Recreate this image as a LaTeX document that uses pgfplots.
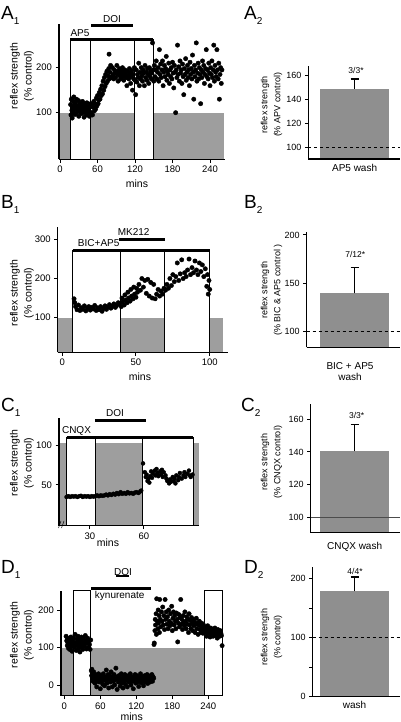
\documentclass[border=0pt]{standalone}
\usepackage{fontspec}
\setmainfont{Liberation Sans}
\usepackage{pgfplots}
\pgfplotsset{compat=1.18}
\definecolor{rg}{gray}{0.62}
\definecolor{bg}{gray}{0.56}
\pgfplotsset{
  lp/.style={scale only axis, anchor=south west, axis on top, clip=false,
    axis x line*=bottom, axis y line*=left, axis line style={line width=1.1pt,-},
    tick align=outside, major tick length=3.5pt, tick style={line width=1pt,black},
    /pgf/number format/assume math mode=true, scaled ticks=false,
    tick label style={font=\fontsize{9.5}{10}\selectfont}},
  rp/.style={scale only axis, anchor=south west, axis on top,
    axis x line*=bottom, axis y line*=left, axis line style={line width=1.1pt,-},
    tick align=outside, major tick length=3.5pt, minor tick length=3.5pt,
    tick style={line width=1pt,black}, xtick=\empty, xmin=0,
    /pgf/number format/assume math mode=true, scaled ticks=false,
    tick label style={font=\fontsize{9}{10}\selectfont}},
  dots/.style={only marks, mark=*, mark size=2.2pt, black},
}
\tikzset{
  bx/.style={fill=white, draw=black, line width=0.8pt},
  drug/.style={line width=3pt, black},
}
\newcommand{\fs}[1]{\fontsize{#1}{#1}\selectfont}
\begin{document}
\begin{tikzpicture}[x=1pt,y=1pt]
\useasboundingbox (0,0) rectangle (400,722);

% ---------------- A1
\begin{axis}[lp, at={(59pt,562.7pt)}, width=166pt, height=135.3pt,
  xmin=-1.6, xmax=264, ymin=-3.5, ymax=297, xtick={0,60,120,180,240}, ytick={100,200}]
\fill[rg] (axis cs:-1.6,-3.5) rectangle (axis cs:262.4,100);
\filldraw[bx] (axis cs:16,-3.5) rectangle (axis cs:48.5,263);
\filldraw[bx] (axis cs:119,-3.5) rectangle (axis cs:149,263);
\addplot[dots] coordinates {(17,118)(17.5,95)(18,130)(19,105)(19.5,88)(20,112)(21,125)(21.5,100)(22,135)(23,108)(23.5,118)(24,96)(25,122)(26,110)(26.5,130)(27,100)(28,115)(29,105)(29.5,127)(30,92)(31,112)(32,120)(32.5,102)(33,110)(34,98)(35,118)(35.5,106)(36,125)(37,100)(38,113)(38.5,90)(39,120)(40,108)(41,115)(42,100)(42.5,95)(43,122)(44,110)(45,105)(46,118)(47,92)(47.5,112)(48,100)(49,120)
(50,100)(51,118)(52,95)(53,112)(54,125)(55,104)(56,120)(57,108)(58,132)(59,115)(60,138)(61,120)(62,128)(63,145)(64,130)(65,152)(66,138)(67,160)(68,142)(69,170)(70,150)(71,178)(72,158)(73,185)(74,165)(75,192)(76,170)(77,182)(78,198)(79,175)(80,190)(78.5,230)(81,205)(82,178)
(83,180)(84,200)(85,185)(86,175)(87,195)(88,188)(89,178)(90,192)(91,205)(92,185)(93,170)(94,190)(95,198)(96,182)(97,175)(98,193)(99,186)(100,200)(101,180)(102,172)(103,190)(104,195)(105,185)(106,178)(107,160)(108,192)(109,183)(110,175)(111,198)(112,188)(113,165)(114,180)(115,193)(116,150)(117,185)(118,175)(119,200)(120,172)(121,140)
(122,195)(123,168)(124,185)(125,178)(126,210)(127,160)(128,190)(129,175)(130,200)(131,182)(132,170)(133,195)(134,188)(135,160)(136,205)(137,178)(138,190)(139,172)(140,198)(141,185)(142,165)(143,200)(144,180)(145,192)(146,175)(147,188)(148,255)(149,195)(150,170)
(151,205)(152,180)(153,195)(154,215)(155,175)(156,190)(157,200)(158,170)(159,240)(160,185)(161,208)(162,178)(163,195)(164,215)(165,160)(166,190)(167,205)(168,180)(169,198)(170,225)(171,172)(172,192)(173,185)(174,210)(175,165)(176,195)(177,180)(178,200)(179,175)(180,212)(181,188)(182,155)(183,205)(184,190)(185,100)(186,195)(187,178)(188,250)(189,185)(190,202)(191,170)(192,215)(193,188)(194,195)(195,165)(196,208)(197,180)(198,140)(199,198)(200,185)
(201,220)(202,172)(203,190)(204,205)(205,178)(206,195)(207,160)(208,212)(209,185)(210,198)(211,175)(212,228)(213,190)(214,130)(215,205)(216,180)(217,195)(218,255)(219,170)(220,188)(221,210)(222,175)(223,200)(224,185)(225,120)(226,195)(227,178)(228,215)(229,190)(230,205)(231,165)(232,185)(233,198)(234,240)(235,180)(236,195)(237,175)(238,210)(239,188)(240,160)(241,200)(242,185)(243,215)(244,178)(245,195)(246,250)(247,170)(248,205)(249,190)(250,180)(251,240)(252,195)(253,175)(254,210)(255,130)(256,185)(257,200)(258,165)(259,195)};
\draw[drug] (axis cs:16,263) -- (axis cs:149,263);
\draw[line width=1pt] (axis cs:149,263) -- (axis cs:149,252);
\draw[drug] (axis cs:49.6,294) -- (axis cs:116.3,294);
\end{axis}

% ---------------- A2
\begin{axis}[rp, at={(308.3pt,563pt)}, width=91.7pt, height=93pt,
  xmax=91.7, ymin=90.2, ymax=168, ytick={100,120,140,160}]
\addplot[ybar, bar width=69.3pt, fill=bg, draw=none,
  error bars/.cd, y dir=plus, y explicit,
  error bar style={line width=1.6pt,black},
  error mark options={rotate=90, mark size=4pt, line width=1.6pt, black}]
  coordinates {(46.35,148.8) +- (0,8.4)};
\draw[dashed, line width=0.6pt] (axis cs:0,100) -- (axis cs:91.7,100);
\end{axis}

% ---------------- B1
\begin{axis}[lp, at={(57.7pt,369.7pt)}, width=170pt, height=125.6pt,
  xmin=-3.1, xmax=112.2, ymin=10.8, ymax=333, xtick={0,50,100}, ytick={100,200,300}]
\fill[rg] (axis cs:-3.1,10.8) rectangle (axis cs:109,100);
\filldraw[bx] (axis cs:7,10.8) rectangle (axis cs:39.3,273);
\filldraw[bx] (axis cs:69.4,10.8) rectangle (axis cs:100.1,273);
\addplot[dots] coordinates {(8,148)(8.5,138)(9,128)(10,120)(11,132)(12,118)(13,125)(14,121)(15,130)(16,117)(17,124)(18,128)(19,119)(20,126)(21,122)(22,131)(23,118)(24,125)(25,120)(26,128)(27,116)(28,123)(29,130)(30,121)(31,127)(32,133)(33,124)(34,129)(35,135)(36,126)(37,131)(38,138)
(39,135)(40,128)(40.5,150)(41,140)(42,132)(42.5,158)(43,145)(44,138)(44.5,165)(45,150)(46,142)(46.5,172)(47,155)(48,148)(48.5,178)(49,160)(50,152)(50.5,175)(51,165)(52,185)(53,170)(54,200)(55,178)(56,195)(57,162)(58,198)(59,155)(60,190)(61,150)(62,185)(63,148)(64,160)(65,172)(66,155)(67,168)(68,160)(69,175)
(70,170)(71,185)(72,175)(73,200)(74,182)(75,210)(76,192)(77,205)(78,240)(79,195)(80,212)(81,248)(82,200)(83,215)(84,205)(85,222)(86,250)(87,210)(88,228)(89,215)(90,245)(91,222)(92,210)(93,240)(94,218)(95,235)(96,205)(97,225)(98,180)(98.5,210)(99,160)(99.5,195)(100,172)};
\draw[drug] (axis cs:7,273) -- (axis cs:100.1,273);
\draw[drug] (axis cs:38.8,300) -- (axis cs:69.8,300);
\end{axis}

% ---------------- B2
\begin{axis}[rp, at={(306.7pt,374.7pt)}, width=93.3pt, height=115.6pt,
  xmax=93.3, ymin=83.9, ymax=203.4, ytick={100,150,200}]
\addplot[ybar, bar width=69.3pt, fill=bg, draw=none,
  error bars/.cd, y dir=plus, y explicit,
  error bar style={line width=1.3pt,black},
  error mark options={rotate=90, mark size=4pt, line width=1.3pt, black}]
  coordinates {(47.95,139.7) +- (0,26.8)};
\draw[dashed, line width=0.6pt] (axis cs:0,100) -- (axis cs:93.3,100);
\end{axis}

% ---------------- C1
\begin{axis}[lp, at={(59pt,196.3pt)}, width=140pt, height=107.4pt,
  xmin=12.8, xmax=90.6, ymin=-0.9, ymax=133.4, xtick={30,60}, ytick={50,100},
  y axis line style={line width=1.8pt}]
\fill[rg] (axis cs:12.8,-0.9) rectangle (axis cs:90.5,102);
\filldraw[bx] (axis cs:17,-0.9) rectangle (axis cs:33.2,110);
\filldraw[bx] (axis cs:59.3,-0.9) rectangle (axis cs:87.4,110);
\addplot[dots, mark size=2pt] coordinates {(17,35)(18,36)(19,35)(20,36)(21,35.5)(22,36)(23,35)(24,36)(25,36.5)(26,35)(27,36)(28,35.5)(29,36)(30,35)(31,36)(32,35.5)(33,36)(34,37)(35,36)(36,37)(37,36.5)(38,37)(39,38)(40,37)(41,38.5)(42,37.5)(43,39)(44,38)(45,40)(46,38.5)(47,41)(48,39)(49,40)(50,39)(51,41)(52,39.5)(53,40)(54,39)(55,40.5)(56,41)(57,40)(58,42)(58.5,43)
(59.5,77)(60.5,66)(61,60)(61.5,63)(62,55)(62.5,58)(63,53)(63.5,61)(64,67)(64.5,59)(65,64)(66,68)(66.5,62)(67,70)(67.5,65)(68,61)(69,67)(69.5,63)(70,69)(70.5,60)(71,66)(72,62)(72.5,58)(73,55)(74,52)(74.5,57)(75,54)(76,60)(76.5,55)(77,58)(77.5,52)(78,62)(79,56)(79.5,60)(80,65)(81,58)(82,62)(82.5,66)(83,60)(84,64)(85,68)(85.5,62)(86,60)(87,63)};
\draw[drug] (axis cs:17,110) -- (axis cs:87.4,110);
\draw[drug] (axis cs:32.8,131) -- (axis cs:61,131);
\end{axis}

% ---------------- C2
\begin{axis}[rp, at={(310.7pt,189.3pt)}, width=89.3pt, height=128.4pt,
  xmax=89.3, ymin=90.9, ymax=169, ytick={100,120,140,160}]
\addplot[ybar, bar width=69.3pt, fill=bg, draw=none,
  error bars/.cd, y dir=plus, y explicit,
  error bar style={line width=1.6pt,black},
  error mark options={rotate=90, mark size=4pt, line width=1.6pt, black}]
  coordinates {(43.95,140.5) +- (0,16.2)};
\draw[line width=0.6pt, black!70] (axis cs:0,100) -- (axis cs:89.3,100);
\end{axis}

% ---------------- D1
\begin{axis}[lp, at={(61pt,26.3pt)}, width=161.7pt, height=105pt,
  xmin=-5.5, xmax=264, ymin=-28.5, ymax=251.5, xtick={0,60,120,180,240}, ytick={0,100,200}]
\fill[rg] (axis cs:-5.5,-28.5) rectangle (axis cs:233.4,99);
\filldraw[bx] (axis cs:15,-28.5) rectangle (axis cs:44,251.5);
\filldraw[bx] (axis cs:233.4,-28.5) rectangle (axis cs:264,251.5);
\addplot[dots] coordinates {(3,130)(4,118)(5,105)(5.5,125)(6,112)(7,98)(8,120)(8.5,108)(9,95)(10,115)(11,128)(11.5,102)(12,110)(13,90)(14,118)(15,105)(16,125)(16.5,112)(17,100)(18,135)(19,108)(20,92)(21,115)(22,122)(22.5,105)(23,130)(24,98)(25,112)(26,88)(27,120)(28,108)(28.5,128)(29,100)(30,115)(31,95)(32,125)(33,110)(34,104)(35,132)(36,118)(37,96)(38,112)(39,125)(40,100)(41,115)(42,108)(43,95)(44,120)
(45,38)(45.5,25)(46,42)(47,18)(47.5,30)(48,10)(49,35)(50,20)(51,5)(52,28)(53,15)(54,-5)(55,22)(56,12)(57,30)(58,8)(59,18)(60,-10)(61,25)(62,10)(63,20)(64,2)(65,30)(66,15)(67,-2)(68,22)(69,12)(70,40)(71,5)(72,18)(73,28)(74,-8)(75,15)(76,25)(77,8)(78,35)(79,12)(80,-5)(81,20)(82,10)(83,28)(84,0)(85,15)(86,45)(87,18)(88,-12)(89,22)(90,8)(91,25)(92,12)(93,-3)(94,18)(95,30)(96,5)(97,15)(98,-8)(99,22)(100,10)(101,28)(102,2)(103,15)(104,20)(105,-5)(106,12)(107,25)(108,8)(109,18)(110,30)(111,0)(112,15)(113,22)(114,10)(115,-10)(116,20)(117,12)(118,28)(119,5)(120,18)(121,25)(122,8)(123,15)(124,-4)(125,20)(126,12)(127,30)(128,6)(129,18)(130,22)(131,10)(132,-2)(133,16)(134,25)(135,8)(136,20)(137,14)(138,28)(139,4)(140,18)(141,12)(142,24)(143,8)(144,20)(145,15)(146,28)(147,10)(148,22)(149,18)
(149.5,108)(150,112)(151,145)(151.5,175)(152,160)(153,190)(153.5,135)(154,230)(155,170)(156,150)(156.5,200)(157,165)(158,185)(158.5,140)(159,228)(160,175)(161,155)(162,195)(163,170)(164,208)(165,160)(166,185)(167,148)(168,228)(169,175)(170,195)(171,162)(172,182)(173,150)(174,200)(175,170)(176,158)(177,190)(178,165)(179,210)(180,145)(181,178)(182,195)(183,160)(184,185)(185,170)(186,150)(187,192)(188,175)(189,115)(190,165)(191,188)(192,155)(193,180)(194,228)(195,162)(196,175)(197,148)(198,185)(199,168)(200,158)
(201,195)(202,170)(203,150)(204,182)(205,162)(206,175)(207,140)(208,190)(209,160)(210,172)(211,150)(212,180)(213,165)(214,145)(215,175)(216,158)(217,168)(218,140)(219,162)(220,178)(221,150)(222,165)(223,135)(224,160)(225,170)(226,148)(227,158)(228,140)(229,165)(230,150)(231,138)(232,160)(233,145)(234,155)(235,140)(236,150)(237,130)(238,148)(239,158)(240,138)(241,150)(242,142)(243,128)(244,152)(245,140)(246,135)(247,148)(248,130)(249,145)(250,138)(251,152)(252,132)(253,145)(254,140)(255,125)(256,148)(257,135)(258,142)(259,130)(260,145)(261,138)(262,132)(263,105)};
\draw[drug] (axis cs:44.5,258) -- (axis cs:144,258);
\end{axis}

% ---------------- D2
\begin{axis}[rp, at={(312.7pt,25.3pt)}, width=87.3pt, height=130pt,
  xmax=87.3, ymin=0, ymax=220, ytick={0,100,200}, minor ytick={50,150}]
\addplot[ybar, bar width=68.6pt, fill=bg, draw=none,
  error bars/.cd, y dir=plus, y explicit,
  error bar style={line width=1.6pt,black},
  error mark options={rotate=90, mark size=4pt, line width=1.6pt, black}]
  coordinates {(41.95,178.5) +- (0,24.2)};
\draw[dashed, line width=0.6pt] (axis cs:0,100) -- (axis cs:87.3,100);
\end{axis}

% ---------------- text
\node[anchor=base west, inner sep=0] at (1,702) {\fs{19}A\raisebox{-5pt}{\fs{10}1}};
\node[anchor=base west, inner sep=0] at (244,702) {\fs{19}A\raisebox{-5pt}{\fs{10}2}};
\node[anchor=base west, inner sep=0] at (1,513.7) {\fs{19}B\raisebox{-5pt}{\fs{10}1}};
\node[anchor=base west, inner sep=0] at (244,513.7) {\fs{19}B\raisebox{-5pt}{\fs{10}2}};
\node[anchor=base west, inner sep=0] at (1,310.3) {\fs{19}C\raisebox{-5pt}{\fs{10}1}};
\node[anchor=base west, inner sep=0] at (241,310.3) {\fs{19}C\raisebox{-5pt}{\fs{10}2}};
\node[anchor=base west, inner sep=0] at (1,148.7) {\fs{19}D\raisebox{-5pt}{\fs{10}1}};
\node[anchor=base west, inner sep=0] at (244,148.7) {\fs{19}D\raisebox{-5pt}{\fs{10}2}};

\foreach \yy in {646,429,259,87} {
  \node[rotate=90, inner sep=0] at (15,\yy) {\fs{10.5}reflex strength};
  \node[rotate=90, inner sep=0] at (29,\yy) {\fs{10.5}(\% control)};
}
\node[rotate=90, inner sep=0] at (265,617) {\fs{9}reflex strength};
\node[rotate=90, inner sep=0] at (278,617) {\fs{9}(\% APV control)};
\node[rotate=90, inner sep=0] at (265,432) {\fs{9}reflex strength};
\node[rotate=90, inner sep=0] at (278,432) {\fs{9}(\% BIC \& AP5 control )};
\node[rotate=90, inner sep=0] at (265,260) {\fs{9}reflex strength};
\node[rotate=90, inner sep=0] at (278,260) {\fs{9}(\% CNQX control)};
\node[rotate=90, inner sep=0] at (265,85) {\fs{9}reflex strength};
\node[rotate=90, inner sep=0] at (278,85) {\fs{9}(\% control)};

\node at (137,538.7) {\fs{10.5}mins};
\node at (140,345.3) {\fs{10.5}mins};
\node at (108,179.3) {\fs{10.5}mins};
\node at (131.7,5.3) {\fs{10.5}mins};

\node at (80,688.7) {\fs{10}AP5};
\node at (112,703) {\fs{10}DOI};
\node at (98.7,479.3) {\fs{10}BIC+AP5};
\node at (133.7,489.7) {\fs{10}MK212};
\node at (76.5,291.3) {\fs{10}CNQX};
\node at (115,308.7) {\fs{10}DOI};
\node at (123,150.3) {\fs{10}DOI};
\draw[line width=2pt] (116,145.5) -- (129,145.5);
\node at (119.7,126.3) {\fs{10}kynurenate};

\draw[line width=0.5pt] (58.5,194) -- (61,201);
\draw[line width=0.5pt] (61.5,194) -- (64,201);

\node at (356,652) {\fs{8.5}3/3*};
\node at (354.6,553.7) {\fs{10}AP5 wash};
\node at (355.3,468) {\fs{8.5}7/12*};
\node at (350,356) {\fs{10}BIC + AP5};
\node at (350,345) {\fs{10}wash};
\node at (356.7,307) {\fs{8.5}3/3*};
\node at (354.6,175) {\fs{10}CNQX wash};
\node at (355,150.3) {\fs{8.5}4/4*};
\node at (354.6,17) {\fs{10}wash};
\end{tikzpicture}
\end{document}
